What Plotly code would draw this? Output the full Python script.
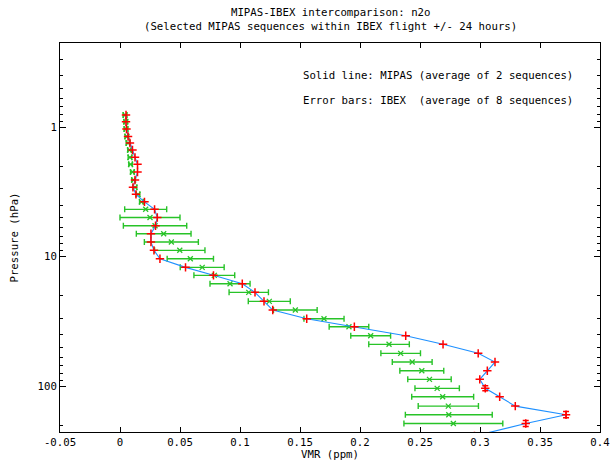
import plotly.graph_objects as go

# ---------------- data ----------------
pressure_levels = [0.808, 0.910, 1.036, 1.184, 1.329, 1.505, 1.714, 1.941, 2.226, 2.566,
                   2.922, 3.309, 3.781, 4.320, 4.998, 5.782, 6.668, 7.727, 8.956, 10.40,
                   12.12, 13.97, 16.22, 18.90, 22.18, 25.89, 30.22, 34.84, 40.89, 47.64,
                   55.92, 65.27, 76.18, 88.78, 104.2, 120.9, 142.9, 166.6, 194.9]
mipas_pressure = pressure_levels + [243.2]

mipas_vmr = [0.0050, 0.0050, 0.0054, 0.0067, 0.0083, 0.0104, 0.0125, 0.0146, 0.0146, 0.0125,
             0.0108, 0.0133, 0.0204, 0.0288, 0.0311, 0.0296, 0.0258, 0.0258, 0.0283, 0.0333,
             0.0546, 0.0779, 0.1019, 0.1125, 0.1200, 0.1273, 0.1556, 0.1953, 0.2381, 0.2692,
             0.2985, 0.3125, 0.3061, 0.2998, 0.3044, 0.3164, 0.3294, 0.3717, 0.3381, 0.2954]
mipas_p_err = [0] * 34 + [4.5, 0, 0, 9.0, 10.5, 0]

ibex_pressure = pressure_levels
ibex_vmr = [0.0042, 0.0048, 0.0050, 0.0057, 0.0067, 0.0079, 0.0083, 0.0088, 0.0103, 0.0113,
            0.0125, 0.0150, 0.0178, 0.0214, 0.0250, 0.0292, 0.0364, 0.0428, 0.0498, 0.0586,
            0.0685, 0.0786, 0.0917, 0.1073, 0.1244, 0.1461, 0.1700, 0.1908, 0.2089, 0.2242,
            0.2339, 0.2435, 0.2515, 0.2579, 0.2643, 0.2689, 0.2736, 0.2740, 0.2778]
ibex_err = [0.0015] * 13 + [0.0175, 0.0250, 0.0264, 0.0228, 0.0225, 0.0210, 0.0193, 0.0183,
                            0.0170, 0.0167, 0.0164, 0.0175, 0.0182, 0.0167, 0.0165, 0.0166,
                            0.0169, 0.0165, 0.0166, 0.0183, 0.0181, 0.0185, 0.0258, 0.0251,
                            0.0362, 0.0412]

x_tick_vals = [-0.05, 0, 0.05, 0.1, 0.15, 0.2, 0.25, 0.3, 0.35, 0.4]
x_tick_text = ["-0.05", "0", "0.05", "0.1", "0.15", "0.2", "0.25", "0.3", "0.35", "0.4"]
y_tick_vals = [1, 10, 100]
y_tick_text = ["1", "10", "100"]
y_minor_vals = [0.3, 0.4, 0.5, 0.6, 0.7, 0.8, 0.9, 2, 3, 4, 5, 6, 7, 8, 9,
                20, 30, 40, 50, 60, 70, 80, 90, 200]

title_line1 = "MIPAS-IBEX intercomparison: n2o"
title_line2 = "(Selected MIPAS sequences within IBEX flight +/- 24 hours)"
note_line1 = "Solid line: MIPAS (average of 2 sequences)"
note_line2 = "Error bars: IBEX\u00a0 (average of 8 sequences)"

# ---------------- figure ----------------
FONT = "DejaVu Sans Mono"
FS = 10.7
GREEN = "rgb(40,195,40)"
BLUE = "rgb(30,144,255)"

fig = go.Figure()

fig.add_trace(go.Scatter(
    x=ibex_vmr, y=ibex_pressure, mode="markers",
    marker=dict(symbol="x-thin", size=5, line=dict(color=GREEN, width=1.3), color=GREEN),
    error_x=dict(type="data", array=ibex_err, visible=True, color=GREEN, thickness=1.4, width=3),
    showlegend=False, hoverinfo="skip"))

fig.add_trace(go.Scatter(
    x=mipas_vmr, y=mipas_pressure, mode="lines+markers",
    line=dict(color=BLUE, width=1.1),
    marker=dict(symbol="cross-thin", size=6, line=dict(color="red", width=1.5), color="red"),
    showlegend=False, hoverinfo="skip"))

idx = [i for i, e in enumerate(mipas_p_err) if e > 0]
fig.add_trace(go.Scatter(
    x=[mipas_vmr[i] for i in idx], y=[mipas_pressure[i] for i in idx], mode="markers",
    marker=dict(size=1, color="red", opacity=0),
    error_y=dict(type="data", array=[mipas_p_err[i] for i in idx], visible=True,
                 color="red", thickness=1.5, width=3),
    showlegend=False, hoverinfo="skip"))

L, R, T, B = 60, 13, 43, 29
W, H = 613, 461
ph = H - T - B
pw = W - L - R

def py(ypix):
    return (H - B - ypix) / ph

def px(xpix):
    return (xpix - L) / pw

annots = [
    dict(text=title_line1, x=0.5, y=py(13)),
    dict(text=title_line2, x=0.5, y=py(26.5)),
]
for a in annots:
    a.update(xref="paper", yref="paper", xanchor="center", yanchor="middle",
             showarrow=False, font=dict(family=FONT, size=FS, color="black"))
for txt, yp in [(note_line1, 76), (note_line2, 100)]:
    annots.append(dict(text=txt, x=px(301), y=py(yp), xref="paper", yref="paper",
                       xanchor="left", yanchor="middle", showarrow=False,
                       font=dict(family=FONT, size=FS, color="black")))

fig.update_layout(
    width=W, height=H,
    margin=dict(l=L, r=R, t=T, b=B, pad=0, autoexpand=False),
    paper_bgcolor="white", plot_bgcolor="white",
    font=dict(family=FONT, size=FS, color="black"),
    annotations=annots,
    xaxis=dict(range=[-0.05, 0.4], tickmode="array", tickvals=x_tick_vals, ticktext=x_tick_text,
               ticks="inside", ticklen=5, tickcolor="black", showgrid=False, zeroline=False,
               showline=True, linecolor="black", linewidth=1, mirror="ticks",
               automargin=False,
               title=dict(text="VMR (ppm)", standoff=7, font=dict(family=FONT, size=FS))),
    yaxis=dict(type="log", range=[2.355, -0.649], tickmode="array", tickvals=y_tick_vals,
               ticktext=y_tick_text, ticks="inside", ticklen=6, tickcolor="black",
               showgrid=False, zeroline=False, showline=True, linecolor="black", linewidth=1,
               mirror="ticks", automargin=False,
               minor=dict(tickmode="array", tickvals=y_minor_vals, ticks="inside", ticklen=3,
                          tickcolor="black", showgrid=False),
               title=dict(text="Pressure (hPa)", standoff=16, font=dict(family=FONT, size=FS))),
)

fig.write_html("out.html", config={"displayModeBar": False},
               post_script="document.body.style.margin='0';")
